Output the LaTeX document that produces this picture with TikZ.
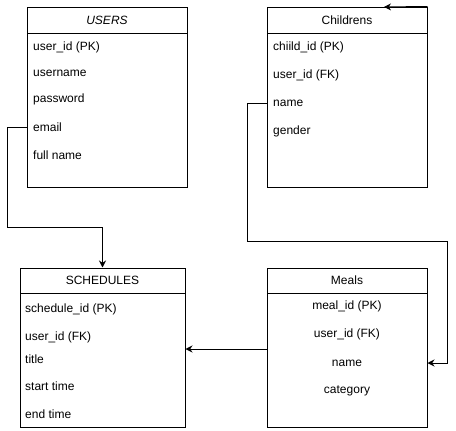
\documentclass[tikz,border=0pt]{standalone}
\usepackage{fontspec}
\setmainfont{Liberation Sans}
\usepackage{tikz}
\usetikzlibrary{arrows.meta}
\tikzstyle{Head}=[draw,line width=1pt,minimum width=160pt,minimum height=26pt,
inner sep=0pt,font=\fontsize{12}{14}\selectfont]
\tikzstyle{Body}=[draw,line width=1pt,minimum width=160pt,inner sep=0pt]
\tikzstyle{Row}=[anchor=west,inner sep=0pt,font=\fontsize{12}{14}\selectfont]
\tikzstyle{RowC}=[inner sep=0pt,font=\fontsize{12}{14}\selectfont]
\tikzstyle{Link}=[line width=1pt,-{Stealth[length=7pt,width=7pt]}]

\begin{document}
\begin{tikzpicture}[x=1pt,y=-1pt]
            \useasboundingbox(0,0)rectangle(456,431);
            % users
            \node[Head](uh)at(107,20){\textit{USERS}};
            \node[Body,minimum height=154pt](ub)at(107,110){};
            \node[Row](u1)at(33,47){user\_id (PK)};
            \node[Row](u2)at(33,73){username};
            \node[Row](u3)at(33,99){password};
            \node[Row](u4)at(33,127){email};
            \node[Row](u5)at(33,155){full name};
            % childrens
            \node[Head](ch)at(347,20){Childrens};
            \node[Body,minimum height=154pt](cb)at(347,110){};
            \node[Row](c1)at(273,47){chiild\_id (PK)};
            \node[Row](c2)at(273,75){user\_id (FK)};
            \node[Row](c3)at(273,103){name};
            \node[Row](c4)at(273,131){gender};
            % schedules
            \node[Head,minimum width=165pt,minimum height=25pt](sh)at(102.5,280.5){SCHEDULES};
            \node[Body,minimum width=165pt,minimum height=134pt](sb)at(102.5,360){};
            \node[Row](s1)at(25,309){schedule\_id (PK)};
            \node[Row](s2)at(25,337){user\_id (FK)};
            \node[Row](s3)at(25,359){title};
            \node[Row](s4)at(25,386){start time};
            \node[Row](s5)at(25,414){end time};
            % meals
            \node[Head,minimum height=25pt](mh)at(347,280.5){Meals};
            \node[Body,minimum height=134pt](mb)at(347,360){};
            \node[RowC](m1)at(347,306){meal\_id (PK)};
            \node[RowC](m2)at(347,334){user\_id (FK)};
            \node[RowC](m3)at(347,363){name};
            \node[RowC](m4)at(347,391){category};
            %
            \coordinate(ue)at(ub.west|-u4);
            \coordinate(cn)at(cb.west|-c3);
            \coordinate(mn)at(mb.east|-m3);
            \coordinate(ml)at(267,349);
            \coordinate(sr)at(sb.east|-ml);
            \coordinate(ct)at(ch.north east);
            \coordinate(cx)at(384,7);
            \draw[Link](ue)-|(7,227)-|(sh.north);
            \draw[Link](cn)-|(247,241)-|(447,363)--(mn);
            \draw[Link](ml)--(sr);
            \draw[Link](ct)--(cx);
        \end{tikzpicture}
\end{document}
